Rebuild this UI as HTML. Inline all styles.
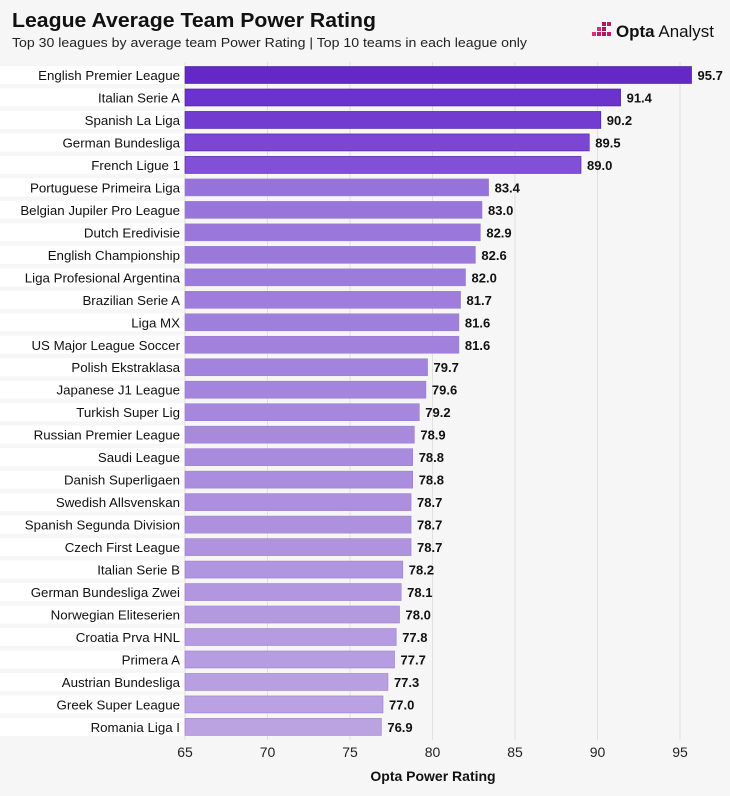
<!DOCTYPE html>
<html><head><meta charset="utf-8"><style>
body{margin:0;background:#f6f6f6;font-family:"Liberation Sans",sans-serif;}
svg{display:block}
</style></head><body>
<svg width="730" height="796" viewBox="0 0 730 796">
<rect width="730" height="796" fill="#f6f6f6"/>
<text x="12" y="27" font-size="20" font-weight="bold" fill="#111" textLength="364" lengthAdjust="spacingAndGlyphs">League Average Team Power Rating</text>
<text x="12" y="47" font-size="13" fill="#222" textLength="515" lengthAdjust="spacingAndGlyphs">Top 30 leagues by average team Power Rating | Top 10 teams in each league only</text>
<g>
<rect x="602" y="22" width="4" height="4" fill="#b0175a"/><rect x="607" y="22" width="4" height="4" fill="#c21a63"/>
<rect x="602" y="27" width="4" height="4" fill="#b0175a"/><rect x="597" y="27" width="4" height="4" fill="#d0347a"/>
<rect x="592" y="32" width="4" height="4" fill="#d0347a"/><rect x="597" y="32" width="4" height="4" fill="#c21a63"/><rect x="602" y="32" width="4" height="4" fill="#b0175a"/><rect x="607" y="32" width="4" height="4" fill="#c21a63"/>
<text x="616" y="37" font-size="17" fill="#111" textLength="98" lengthAdjust="spacingAndGlyphs"><tspan font-weight="bold">Opta</tspan> Analyst</text>
</g>
<g id="grid"></g><g id="rows"></g><g id="axis"></g>
<text x="433" y="781" font-size="14" font-weight="bold" text-anchor="middle" fill="#111">Opta Power Rating</text>
</svg>
<script>
const leagues=["English Premier League","Italian Serie A","Spanish La Liga","German Bundesliga","French Ligue 1","Portuguese Primeira Liga","Belgian Jupiler Pro League","Dutch Eredivisie","English Championship","Liga Profesional Argentina","Brazilian Serie A","Liga MX","US Major League Soccer","Polish Ekstraklasa","Japanese J1 League","Turkish Super Lig","Russian Premier League","Saudi League","Danish Superligaen","Swedish Allsvenskan","Spanish Segunda Division","Czech First League","Italian Serie B","German Bundesliga Zwei","Norwegian Eliteserien","Croatia Prva HNL","Primera A","Austrian Bundesliga","Greek Super League","Romania Liga I"];
const ratings=[95.7,91.4,90.2,89.5,89.0,83.4,83.0,82.9,82.6,82.0,81.7,81.6,81.6,79.7,79.6,79.2,78.9,78.8,78.8,78.7,78.7,78.7,78.2,78.1,78.0,77.8,77.7,77.3,77.0,76.9];
const ticks=[65,70,75,80,85,90,95];
const NS="http://www.w3.org/2000/svg";
const x=v=>185+(v-65)*16.5;
const y=i=>75+i*22.48;
function mk(t,a,p){const e=document.createElementNS(NS,t);for(const k in a)e.setAttribute(k,a[k]);p.appendChild(e);return e;}
const grid=document.getElementById('grid'),rows=document.getElementById('rows'),axis=document.getElementById('axis');
ticks.forEach(t=>{
 const l=mk('line',{x1:x(t),x2:x(t),y1:62,y2:740,stroke:'#e0e0e0','stroke-width':1},grid);
 
 
 const tx=mk('text',{x:x(t),y:757,'font-size':14,'text-anchor':'middle',fill:'#222'},axis);
 tx.textContent=t;
 
 
});
function color(i){
 if(i<5){const f=i/4;return `rgb(${Math.round(100+f*30)},${Math.round(40+f*40)},${Math.round(200+f*15)})`;}
 const f=(i-5)/24;return `rgb(${Math.round(150+f*37)},${Math.round(115+f*48)},${Math.round(218+f*8)})`;
}
leagues.forEach((n,i)=>{
 const cy=y(i);
 const bg=mk('rect',{x:0,y:cy-9,width:184,height:18,fill:'#ffffff'},rows);
 
 
 const lb=mk('text',{x:180,y:cy+5,'font-size':13.3,'text-anchor':'end',fill:'#111'},rows);
 lb.textContent=n;
 
 
 const b=mk('rect',{x:x(65),y:cy-8.5,width:x(ratings[i])-x(65),height:17,fill:color(i),stroke:i<5?'#4a1aa0':'#9a80cc','stroke-width':0.6},rows);
 
 
 const v=mk('text',{x:x(ratings[i])+6,y:cy+5,'font-size':13,'font-weight':'bold',fill:'#111'},rows);
 v.textContent=ratings[i].toFixed(1);
 
 
});
</script>
</body></html>
